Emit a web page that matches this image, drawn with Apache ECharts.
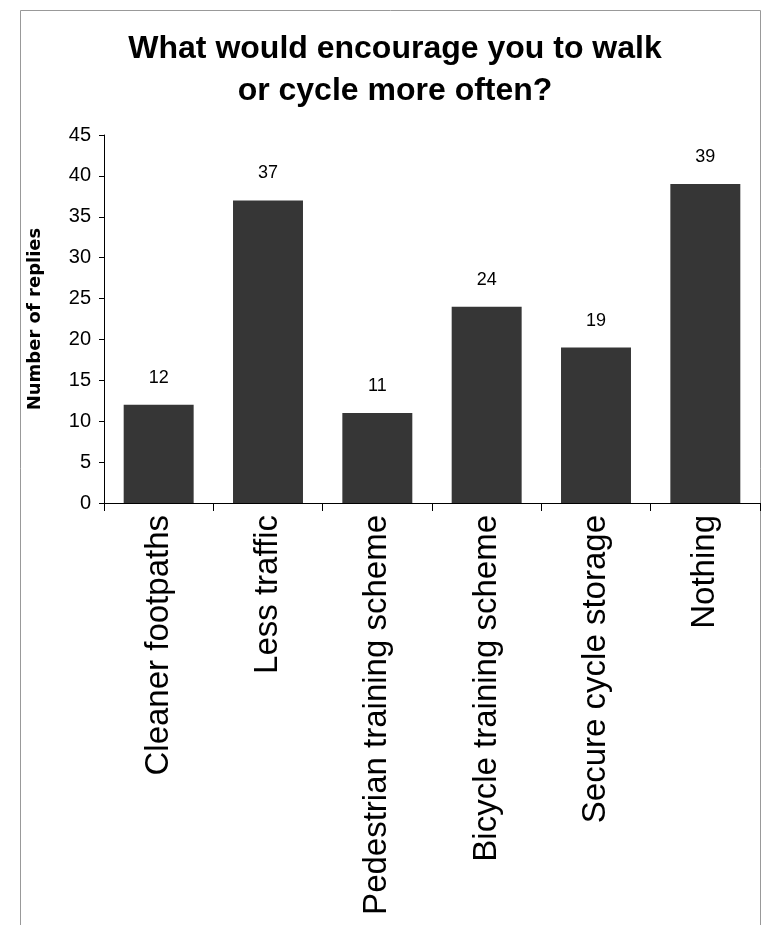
<!DOCTYPE html>
<html>
<head>
<meta charset="utf-8">
<script src="https://cdn.jsdelivr.net/npm/echarts@6/dist/echarts.min.js"></script>
<style>
html,body{margin:0;padding:0;background:#fff;}
#chart{width:764px;height:925px;}
</style>
</head>
<body>
<div id="chart"></div>
<script>
var categories = ['Cleaner footpaths', 'Less traffic', 'Pedestrian training scheme', 'Bicycle training scheme', 'Secure cycle storage', 'Nothing'];
var replies = [12, 37, 11, 24, 19, 39];
var yTicks = [0, 5, 10, 15, 20, 25, 30, 35, 40, 45];

var FONT = '"Liberation Sans", Arial, sans-serif';
var chart = echarts.init(document.getElementById('chart'));
chart.setOption({
  backgroundColor: '#ffffff',
  animation: false,
  title: {
    text: 'What would encourage you to walk\nor cycle more often?',
    left: 390,
    textAlign: 'center',
    top: 23,
    textStyle: { fontFamily: FONT, fontSize: 32, fontWeight: 'bold', color: '#000', lineHeight: 42 }
  },
  graphic: [{
    type: 'rect',
    shape: { x: 20.5, y: 10.5, width: 740, height: 930 },
    style: { fill: 'none', stroke: '#999', lineWidth: 1 },
    silent: true
  }],
  grid: { left: 104, right: 4, top: 135, bottom: 422 },
  xAxis: {
    type: 'category',
    data: categories,
    boundaryGap: true,
    axisLine: { lineStyle: { color: '#000', width: 1 } },
    axisTick: { show: true, length: 8, lineStyle: { color: '#000' } },
    axisLabel: { rotate: 90, margin: 12, fontFamily: FONT, fontSize: 33, color: '#000', interval: 0 }
  },
  yAxis: {
    type: 'value',
    min: yTicks[0],
    max: yTicks[yTicks.length - 1],
    interval: 5,
    name: 'Number of replies',
    nameLocation: 'middle',
    nameGap: 60,
    nameRotate: 90,
    nameTextStyle: { fontFamily: '"DejaVu Sans", sans-serif', fontSize: 18, fontWeight: 'bold', color: '#000' },
    axisLine: { show: true, lineStyle: { color: '#000', width: 1 } },
    axisTick: { show: true, length: 5, lineStyle: { color: '#000' } },
    splitLine: { show: false },
    axisLabel: { margin: 13, fontFamily: FONT, fontSize: 20, color: '#000' }
  },
  series: [{
    type: 'bar',
    data: replies,
    barCategoryGap: '36%',
    itemStyle: { color: '#363636' },
    label: { show: true, position: 'top', distance: 18, fontFamily: FONT, fontSize: 18, color: '#000' }
  }]
});
</script>
</body>
</html>
